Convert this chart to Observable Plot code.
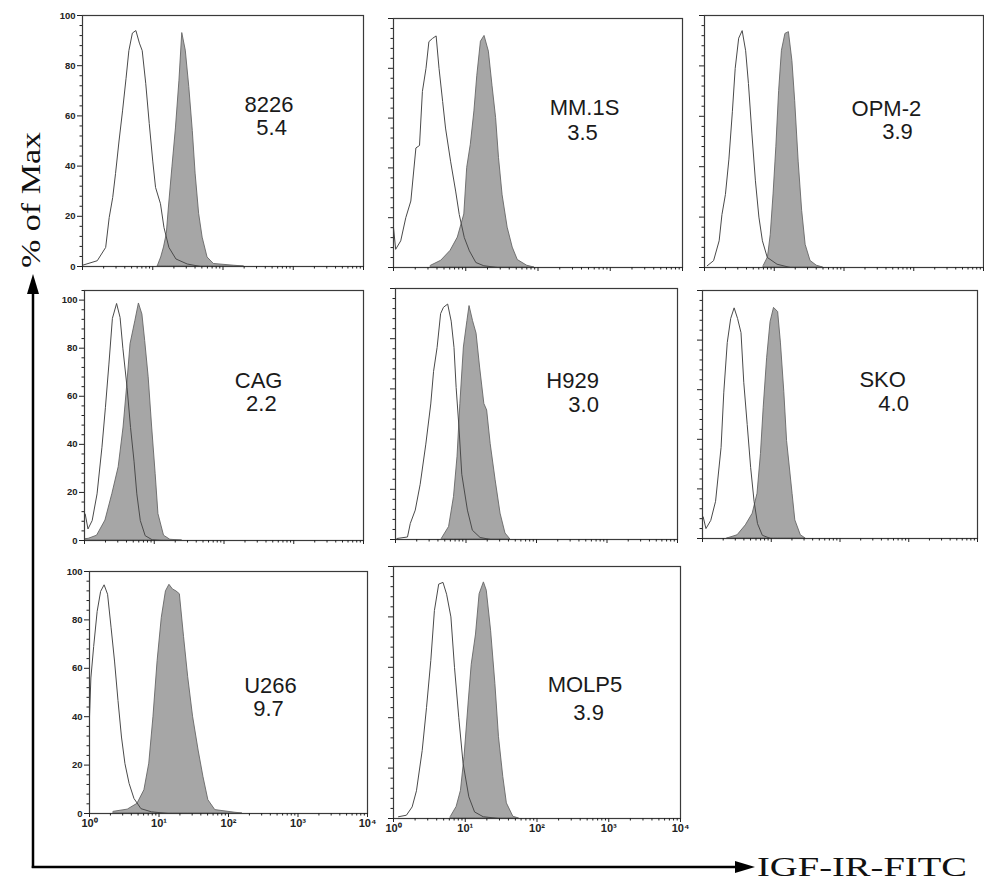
<!DOCTYPE html>
<html><head><meta charset="utf-8">
<script src="https://cdn.jsdelivr.net/npm/d3@7"></script>
<script src="https://cdn.jsdelivr.net/npm/@observablehq/plot@0.6"></script>
<style>
body{margin:0;background:#fff;}
#root{position:relative;width:984px;height:882px;overflow:hidden;background:#fff;}
</style></head><body><div id="root"></div>
<script>
// ---- data ----
const cellLines = ["8226","MM.1S","OPM-2","CAG","H929","SKO","U266","MOLP5"];
const ratios = ["5.4","3.5","3.9","2.2","3.0","4.0","9.7","3.9"];
const xTicks = [1,10,100,1000,10000];
const yTicks = [0,20,40,60,80,100];
const xTitle = "IGF-IR-FITC";
const yTitle = "% of Max";
// histograms: [log10 fluorescence, % of max]
const control8226 = [[0,0.5],[0.21,2.3],[0.33,7.6],[0.38,19.5],[0.43,27.5],[0.47,37],[0.52,50],[0.57,62],[0.62,75],[0.66,86],[0.71,93],[0.76,94],[0.81,89],[0.85,86],[0.90,73],[0.95,57],[1.00,42],[1.04,31.5],[1.11,25],[1.16,15.5],[1.23,7.6],[1.33,3],[1.49,1],[1.68,0]];
const stained8226 = [[1.07,0],[1.12,3.6],[1.16,7.6],[1.20,13],[1.23,23.5],[1.28,39.5],[1.33,55],[1.38,74],[1.42,93],[1.47,86],[1.52,71.5],[1.57,54],[1.61,37],[1.66,21],[1.71,11.5],[1.78,3.6],[1.87,1],[2.16,0.3],[2.3,0]];
const controlMM1S = [[0,16],[0.03,7.3],[0.10,10.7],[0.17,20],[0.24,26.7],[0.31,48],[0.36,49],[0.40,70.7],[0.45,80],[0.49,90.7],[0.54,92],[0.59,93],[0.63,80],[0.68,66.7],[0.72,56],[0.79,42.7],[0.86,30.7],[0.91,21.3],[0.98,12],[1.05,6.7],[1.14,2],[1.25,0.7],[1.44,0]];
const stainedMM1S = [[0.52,0.7],[0.66,2.7],[0.79,6.7],[0.89,12],[0.98,21.3],[1.02,40],[1.07,49.3],[1.12,62.7],[1.16,77],[1.21,90.7],[1.26,93],[1.32,86.7],[1.37,73],[1.42,60],[1.46,44],[1.51,29],[1.58,16],[1.65,8],[1.72,3],[1.85,0.7],[1.95,0]];
const controlOPM2 = [[0.04,0.7],[0.13,2.7],[0.21,10.6],[0.25,21],[0.30,29],[0.35,43],[0.40,62],[0.44,79],[0.49,91],[0.54,94],[0.59,86],[0.63,73],[0.68,53],[0.73,34.4],[0.78,20],[0.83,10.6],[0.90,4],[1.04,1.3],[1.23,0]];
const stainedOPM2 = [[0.85,0.7],[0.91,4],[0.95,13],[0.99,29],[1.03,47.7],[1.07,70],[1.11,86],[1.16,92.7],[1.21,93.4],[1.26,82],[1.30,66],[1.35,42],[1.40,22.5],[1.45,9],[1.52,2.6],[1.61,0.7],[1.7,0]];
const controlCAG = [[0.01,11],[0.05,4.8],[0.11,8.3],[0.18,19.4],[0.25,38.8],[0.30,55.4],[0.35,73.4],[0.40,92.4],[0.46,98.6],[0.51,92.8],[0.55,80],[0.61,63.7],[0.66,47],[0.71,33],[0.75,19.4],[0.80,8.3],[0.87,2],[0.97,0.3],[1.1,0]];
const stainedCAG = [[0,0.5],[0.06,0.7],[0.18,2],[0.30,8.3],[0.40,19.4],[0.49,30.5],[0.56,47],[0.61,63.7],[0.66,81.7],[0.73,91.4],[0.78,98.6],[0.83,94],[0.87,83],[0.92,67.9],[0.97,47],[1.02,27.7],[1.06,11],[1.14,2],[1.23,0.3],[1.4,0]];
const controlH929 = [[0.02,0.4],[0.17,1],[0.21,6.4],[0.28,11.7],[0.35,22],[0.43,38],[0.50,54],[0.54,67],[0.59,76.5],[0.64,90],[0.68,92.5],[0.74,93.8],[0.79,87],[0.83,76.5],[0.86,60.6],[0.90,44.8],[0.94,26],[1.02,11.7],[1.09,3.7],[1.20,0.8],[1.35,0]];
const stainedH929 = [[0.66,0.4],[0.76,5],[0.83,17],[0.88,33],[0.92,54],[0.97,76.5],[1.02,87],[1.05,93],[1.10,87],[1.15,82],[1.20,68.5],[1.26,54],[1.30,51.4],[1.35,38],[1.42,23.6],[1.49,10.3],[1.56,2.4],[1.63,0]];
const controlSKO = [[0.01,8.7],[0.05,4],[0.12,7.3],[0.19,15],[0.27,36.7],[0.31,59],[0.36,79],[0.41,88.7],[0.46,93],[0.51,88.7],[0.56,83],[0.60,63],[0.65,46],[0.70,28.7],[0.75,15],[0.80,6],[0.87,1.3],[0.99,0]];
const stainedSKO = [[0.36,0],[0.51,1.3],[0.63,5.3],[0.73,10],[0.80,18],[0.85,34],[0.89,52.7],[0.94,72.7],[0.99,87.3],[1.04,93],[1.10,91.3],[1.14,79],[1.19,59],[1.23,39.3],[1.31,18],[1.35,7.3],[1.43,1.3],[1.50,0]];
const controlU266 = [[0,40],[0.02,56],[0.06,69],[0.11,83.5],[0.16,91.8],[0.21,94.5],[0.26,90.6],[0.31,77],[0.36,63],[0.41,46.7],[0.46,31.6],[0.51,20.6],[0.57,12.4],[0.64,6.2],[0.74,2],[0.89,0.7],[1.13,0]];
const stainedU266 = [[0.35,0.7],[0.55,1.6],[0.69,4],[0.79,9.6],[0.86,20.6],[0.92,39.8],[0.98,63],[1.04,80.8],[1.10,91.8],[1.15,94.5],[1.20,92.6],[1.25,91.8],[1.30,90.6],[1.36,73],[1.42,56.3],[1.49,40],[1.57,26],[1.64,15],[1.71,5.5],[1.81,1.4],[2.10,0.3],[2.2,0]];
const controlMOLP5 = [[0.07,0.7],[0.18,1.3],[0.26,4.6],[0.32,11],[0.40,27],[0.46,44],[0.52,62.7],[0.57,82.5],[0.63,93],[0.69,93.7],[0.74,89],[0.80,80],[0.85,60],[0.91,40],[0.97,21.8],[1.05,8.6],[1.13,2.6],[1.25,0.7],[1.47,0]];
const stainedMOLP5 = [[0.80,0.7],[0.88,4.6],[0.94,11],[0.99,24.4],[1.05,46.8],[1.09,61],[1.15,73],[1.20,89],[1.26,93.7],[1.30,90.4],[1.36,74.5],[1.42,53.4],[1.47,32.3],[1.53,16.5],[1.58,6],[1.67,0.7],[1.75,0]];

const controls = [control8226, controlMM1S, controlOPM2, controlCAG, controlH929, controlSKO, controlU266, controlMOLP5];
const stained = [stained8226, stainedMM1S, stainedOPM2, stainedCAG, stainedH929, stainedSKO, stainedU266, stainedMOLP5];

// ---- layout (page pixels of each plot frame) ----
const frames = [
  {l:82,  t:15,  r:363, b:266, ymax:100, yl:true,  xl:false, n:[0.664,0.357], v:[0.673,0.45]},
  {l:393, t:18,  r:682, b:267, ymax:100, yl:false, xl:false, n:[0.661,0.361], v:[0.654,0.458]},
  {l:704, t:15,  r:983, b:267, ymax:100, yl:false, xl:false, n:[0.652,0.369], v:[0.692,0.464]},
  {l:84,  t:290, r:363, b:540, ymax:104, yl:true,  xl:false, n:[0.624,0.36],  v:[0.634,0.452]},
  {l:395, t:288, r:677, b:539, ymax:100, yl:false, xl:false, n:[0.628,0.367], v:[0.667,0.462]},
  {l:702, t:290, r:977, b:538, ymax:100, yl:false, xl:false, n:[0.655,0.359], v:[0.695,0.456]},
  {l:89,  t:571, r:367, b:813, ymax:100, yl:true,  xl:true,  n:[0.651,0.471], v:[0.644,0.57]},
  {l:393, t:566, r:680, b:818, ymax:100, yl:false, xl:true,  n:[0.667,0.472], v:[0.68,0.58]}
];

const sup = ["⁰","¹","²","³","⁴"];
const root = document.getElementById("root");
const mL = 34, mR = 6, mT = 8, mB = 26;
const minorX = [];
for (let e = 0; e < 4; e++) for (let k = 2; k < 10; k++) minorX.push(k * 10 ** e);

cellLines.forEach((name, i) => {
  const f = frames[i];
  const W = f.r - f.l, H = f.b - f.t;
  const minorY = d3.range(0, f.ymax + 0.001, 4).filter(v => v % 20 !== 0);
  const chart = Plot.plot({
    width: W + mL + mR, height: H + mT + mB,
    marginLeft: mL, marginRight: mR, marginTop: mT, marginBottom: mB,
    style: {fontFamily: "'Liberation Sans', Arial, sans-serif", fontSize: "9.5px", fontWeight: "bold", color: "#222", background: "transparent", overflow: "visible"},
    x: {type: "log", domain: [1, 1e4]},
    y: {domain: [0, f.ymax]},
    marks: [
      Plot.areaY(stained[i], {x: d => 10 ** d[0], y: d => d[1], fill: "#a6a6a6", stroke: "#666", strokeWidth: 0.9, clip: true}),
      Plot.line(controls[i], {x: d => 10 ** d[0], y: d => d[1], stroke: "#4a4a4a", strokeWidth: 1, clip: true}),
      Plot.frame({stroke: "#3a3a3a", strokeWidth: 1.2}),
      Plot.axisX(xTicks, {tickSize: 4, tickPadding: 2, fontSize: 11, label: null,
        tickFormat: f.xl ? (d => "10" + sup[Math.round(Math.log10(d))]) : (() => "")}),
      Plot.axisX(minorX, {tickSize: 2.5, label: null, tickFormat: () => ""}),
      Plot.axisY(yTicks, {tickSize: 5, tickPadding: 2, label: null,
        tickFormat: f.yl ? (d => String(d)) : (() => "")}),
      Plot.axisY(minorY, {tickSize: 2.5, label: null, tickFormat: () => ""}),
      Plot.text([name], {text: d => d, frameAnchor: "top-left", dx: f.n[0] * W, dy: f.n[1] * H,
        textAnchor: "middle", lineAnchor: "middle", fontSize: 22, fontWeight: "normal", fill: "#1a1a1a"}),
      Plot.text([ratios[i]], {text: d => d, frameAnchor: "top-left", dx: f.v[0] * W, dy: f.v[1] * H,
        textAnchor: "middle", lineAnchor: "middle", fontSize: 22, fontWeight: "normal", fill: "#1a1a1a"})
    ]
  });
  chart.style.position = "absolute";
  chart.style.left = (f.l - mL) + "px";
  chart.style.top = (f.t - mT) + "px";
  root.appendChild(chart);
});

// ---- overall axis arrows and titles ----
const NS = "http://www.w3.org/2000/svg";
const ov = document.createElementNS(NS, "svg");
ov.setAttribute("width", 984); ov.setAttribute("height", 882);
ov.style.position = "absolute"; ov.style.left = "0px"; ov.style.top = "0px";
ov.innerHTML = `
  <line x1="33" y1="868" x2="33" y2="290" stroke="#000" stroke-width="2.5"/>
  <polygon points="33,274 27,294 39,294" fill="#000"/>
  <line x1="31.75" y1="867" x2="738" y2="867" stroke="#000" stroke-width="2.5"/>
  <polygon points="755,867 735,861 735,873" fill="#000"/>
  <text transform="translate(40,200) rotate(-90)" text-anchor="middle" font-family="'Liberation Serif','Times New Roman',serif" font-size="28" fill="#111" textLength="136" lengthAdjust="spacingAndGlyphs">${yTitle}</text>
  <text x="757" y="876" font-family="'Liberation Serif','Times New Roman',serif" font-size="27" fill="#111" textLength="210" lengthAdjust="spacingAndGlyphs">${xTitle}</text>`;
root.appendChild(ov);
</script>
</body></html>
